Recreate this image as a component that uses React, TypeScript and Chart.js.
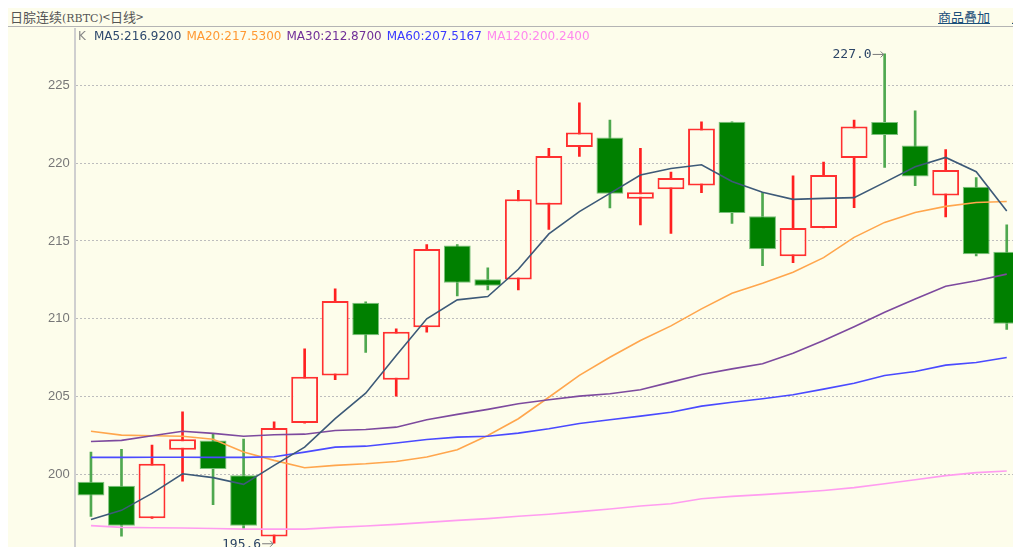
import React, { useEffect, useRef } from "react";
import { Chart, registerables } from "chart.js";

Chart.register(...registerables);

// ---- data ----
const days = Array.from({ length: 31 }, (_, i) => `D${i + 1}`);
const opens = [199.55, 199.29, 197.2, 201.6, 202.2, 199.96, 196.03, 203.31, 206.37, 211.04, 206.09, 209.46, 214.7, 212.54, 212.52, 217.33, 221.03, 221.64, 217.71, 218.31, 218.56, 222.65, 216.58, 214.01, 215.83, 220.32, 222.63, 221.13, 217.92, 218.48, 214.31];
const highs = [201.45, 201.62, 201.9, 204.04, 202.65, 202.28, 203.4, 208.08, 211.92, 211.1, 209.36, 214.76, 214.76, 213.27, 218.24, 220.94, 223.87, 222.76, 220.94, 219.42, 222.65, 222.65, 218.12, 219.17, 220.06, 222.76, 227.0, 223.35, 220.87, 219.06, 216.03];
const lows = [197.33, 196.06, 197.2, 199.59, 198.08, 196.51, 195.6, 203.31, 206.09, 207.84, 205.04, 209.14, 211.47, 211.86, 211.86, 215.74, 220.42, 217.12, 216.03, 215.49, 218.1, 216.13, 213.42, 213.61, 215.83, 217.13, 219.72, 218.54, 216.54, 214.04, 209.33];
const closes = [198.67, 196.73, 200.7, 202.28, 200.36, 196.73, 202.99, 206.28, 211.15, 208.95, 209.17, 214.49, 212.31, 212.12, 217.67, 220.45, 221.96, 218.03, 218.12, 219.04, 222.22, 216.79, 214.46, 215.83, 219.23, 222.35, 221.79, 219.14, 219.55, 214.14, 209.68];

const ma5 = [197.13, 197.71, 198.8, 200.06, 199.81, 199.38, 200.6, 201.77, 203.6, 205.23, 207.65, 210.0, 211.22, 211.43, 213.18, 215.45, 216.88, 218.05, 219.23, 219.65, 219.89, 218.82, 218.12, 217.67, 217.73, 217.78, 218.76, 219.76, 220.36, 219.44, 216.92];
const ma20 = [202.79, 202.54, 202.5, 202.47, 202.28, 201.45, 200.92, 200.45, 200.6, 200.7, 200.85, 201.13, 201.6, 202.52, 203.59, 204.97, 206.37, 207.54, 208.61, 209.55, 210.64, 211.64, 212.28, 212.99, 213.93, 215.23, 216.19, 216.83, 217.22, 217.47, 217.53];
const ma30 = [202.13, 202.2, 202.5, 202.79, 202.65, 202.47, 202.56, 202.6, 202.84, 202.9, 203.05, 203.53, 203.87, 204.19, 204.55, 204.81, 205.04, 205.19, 205.45, 205.94, 206.43, 206.79, 207.12, 207.79, 208.61, 209.5, 210.42, 211.28, 212.09, 212.45, 212.87];
const ma60 = [201.11, 201.11, 201.12, 201.12, 201.11, 201.11, 201.15, 201.45, 201.77, 201.83, 202.03, 202.26, 202.41, 202.47, 202.67, 202.95, 203.29, 203.53, 203.76, 204.01, 204.4, 204.65, 204.87, 205.13, 205.49, 205.87, 206.37, 206.62, 207.03, 207.2, 207.52];
const ma120 = [196.73, 196.62, 196.6, 196.58, 196.55, 196.51, 196.51, 196.51, 196.62, 196.71, 196.81, 196.94, 197.07, 197.18, 197.33, 197.46, 197.63, 197.8, 197.99, 198.14, 198.46, 198.61, 198.72, 198.85, 198.99, 199.17, 199.42, 199.68, 199.94, 200.13, 200.24];

const legendItems = [
  { label: "MA5:216.9200", color: "#2f4a6e" },
  { label: "MA20:217.5300", color: "#ff9933" },
  { label: "MA30:212.8700", color: "#702f98" },
  { label: "MA60:207.5167", color: "#3a3aff" },
  { label: "MA120:200.2400", color: "#ff88ee" },
];

const BG = "#fdfdeb";
const UP = "#ff3030";
const DOWN_FILL = "#008000";
const DOWN_EDGE = "#7cc07c";
const DOWN_WICK = "#4fa84f";

const extremesPlugin = {
  id: "extremes",
  afterDatasetsDraw(chart: any) {
    const { ctx, scales } = chart;
    const xs = scales.x;
    const ys = scales.y;
    let hi = 0;
    let lo = 0;
    highs.forEach((v, i) => { if (v > highs[hi]) hi = i; });
    lows.forEach((v, i) => { if (v < lows[lo]) lo = i; });
    const marks = [
      { i: hi, v: highs[hi] },
      { i: lo, v: lows[lo] },
    ];
    ctx.save();
    marks.forEach((m) => {
      const x = xs.getPixelForValue(m.i) - 1;
      const y = ys.getPixelForValue(m.v);
      ctx.strokeStyle = "#7a7a7a";
      ctx.lineWidth = 1;
      ctx.beginPath();
      ctx.moveTo(x - 11, y + 0.5);
      ctx.lineTo(x, y + 0.5);
      ctx.moveTo(x - 3, y - 2.5);
      ctx.lineTo(x, y + 0.5);
      ctx.lineTo(x - 3, y + 3.5);
      ctx.stroke();
      ctx.fillStyle = "#2c4566";
      ctx.font = "13px 'DejaVu Sans Mono'";
      ctx.textAlign = "right";
      ctx.textBaseline = "middle";
      ctx.fillText(m.v.toFixed(1), x - 12, y + 1);
    });
    ctx.restore();
  },
};

export default function App() {
  const ref = useRef<HTMLCanvasElement | null>(null);

  useEffect(() => {
    document.body.style.overflow = "hidden";
    const canvas = ref.current;
    if (!canvas) return;
    const isUp = opens.map((o, i) => closes[i] >= o);
    const chart = new Chart(canvas, {
      type: "bar",
      data: {
        labels: days,
        datasets: [
          {
            type: "bar",
            label: "wick",
            data: lows.map((l, i) => [l, highs[i]]) as any,
            backgroundColor: isUp.map((u) => (u ? "#ff2020" : DOWN_WICK)),
            borderWidth: 0,
            barThickness: 2,
            grouped: false,
            order: 3,
          } as any,
          {
            type: "bar",
            label: "body",
            data: opens.map((o, i) => [o, closes[i]]) as any,
            backgroundColor: isUp.map((u) => (u ? BG : DOWN_FILL)),
            borderColor: isUp.map((u) => (u ? UP : DOWN_EDGE)),
            borderWidth: isUp.map((u) => (u ? 2 : 1)),
            borderSkipped: false,
            barPercentage: 0.88,
            categoryPercentage: 1,
            grouped: false,
            order: 2,
          } as any,
          { type: "line", label: "MA120", data: ma120, borderColor: "#ff9cf0", borderWidth: 1.6, pointRadius: 0, order: 1 } as any,
          { type: "line", label: "MA60", data: ma60, borderColor: "#4a4aff", borderWidth: 1.6, pointRadius: 0, order: 1 } as any,
          { type: "line", label: "MA30", data: ma30, borderColor: "#7d4a9e", borderWidth: 1.6, pointRadius: 0, order: 1 } as any,
          { type: "line", label: "MA20", data: ma20, borderColor: "#ffa64d", borderWidth: 1.6, pointRadius: 0, order: 1 } as any,
          { type: "line", label: "MA5", data: ma5, borderColor: "#3d5a78", borderWidth: 1.6, pointRadius: 0, order: 0 } as any,
        ],
      },
      options: {
        responsive: false,
        animation: false,
        events: [],
        layout: { autoPadding: false, padding: { top: 2, left: 0, right: 0, bottom: 0 } },
        plugins: { legend: { display: false }, tooltip: { enabled: false } },
        scales: {
          x: { type: "category", display: false, offset: true },
          y: {
            type: "linear",
            min: 195.36,
            max: 228.6,
            afterFit: (s: any) => {
              s.width = 67.7;
              s.paddingTop = 0;
              s.paddingBottom = 0;
            },
            border: { display: false, dash: [2, 2] },
            grid: { color: "#bdbdbd", drawTicks: false, lineWidth: 1 },
            ticks: {
              stepSize: 5,
              includeBounds: false,
              padding: 6,
              color: "#777",
              font: { family: "'Liberation Sans'", size: 13 },
            },
          },
        },
      } as any,
      plugins: [extremesPlugin],
    });
    return () => chart.destroy();
  }, []);

  return (
    <div
      style={{
        position: "relative",
        width: 1013,
        height: 539,
        overflow: "hidden",
        background: BG,
        fontFamily: "'Noto Sans CJK SC', sans-serif",
      }}
    >
      <div
        style={{
          position: "absolute",
          left: 0,
          top: 0,
          width: 1013,
          height: 19,
          borderBottom: "1px solid #b4b4b4",
          boxSizing: "border-box",
        }}
      >
        <span style={{ position: "absolute", left: 2, top: 0, lineHeight: "18px", fontSize: 13, color: "#555", whiteSpace: "nowrap" }}>
          日腙连续<span style={{ fontFamily: "'DejaVu Serif'", fontSize: 11 }}>(RBTC)</span>&lt;日线&gt;
        </span>
        <span style={{ position: "absolute", left: 930, top: 0, lineHeight: "18px", fontSize: 13, color: "#1b4f7a", textDecoration: "underline" }}>
          商品叠加
        </span>
        <span style={{ position: "absolute", left: 1004, top: 0, lineHeight: "18px", fontSize: 13, color: "#1b4f7a", textDecoration: "underline", whiteSpace: "nowrap" }}>
          周
        </span>
      </div>
      <canvas
        ref={ref}
        width={1014}
        height={520}
        style={{ position: "absolute", left: 0, top: 19, width: 1014, height: 520 }}
      />
      <div style={{ position: "absolute", left: 66, top: 20, width: 2, height: 519, background: "#cfcfcf" }} />
      <div
        style={{
          position: "absolute",
          left: 70,
          top: 21,
          lineHeight: "14px",
          fontSize: 12,
          fontFamily: "'DejaVu Sans'",
          whiteSpace: "nowrap",
        }}
      >
        <span style={{ color: "#888", marginRight: 8 }}>K</span>
        {legendItems.map((it) => (
          <span key={it.label} style={{ color: it.color, marginRight: 5 }}>
            {it.label}
          </span>
        ))}
      </div>
    </div>
  );
}
